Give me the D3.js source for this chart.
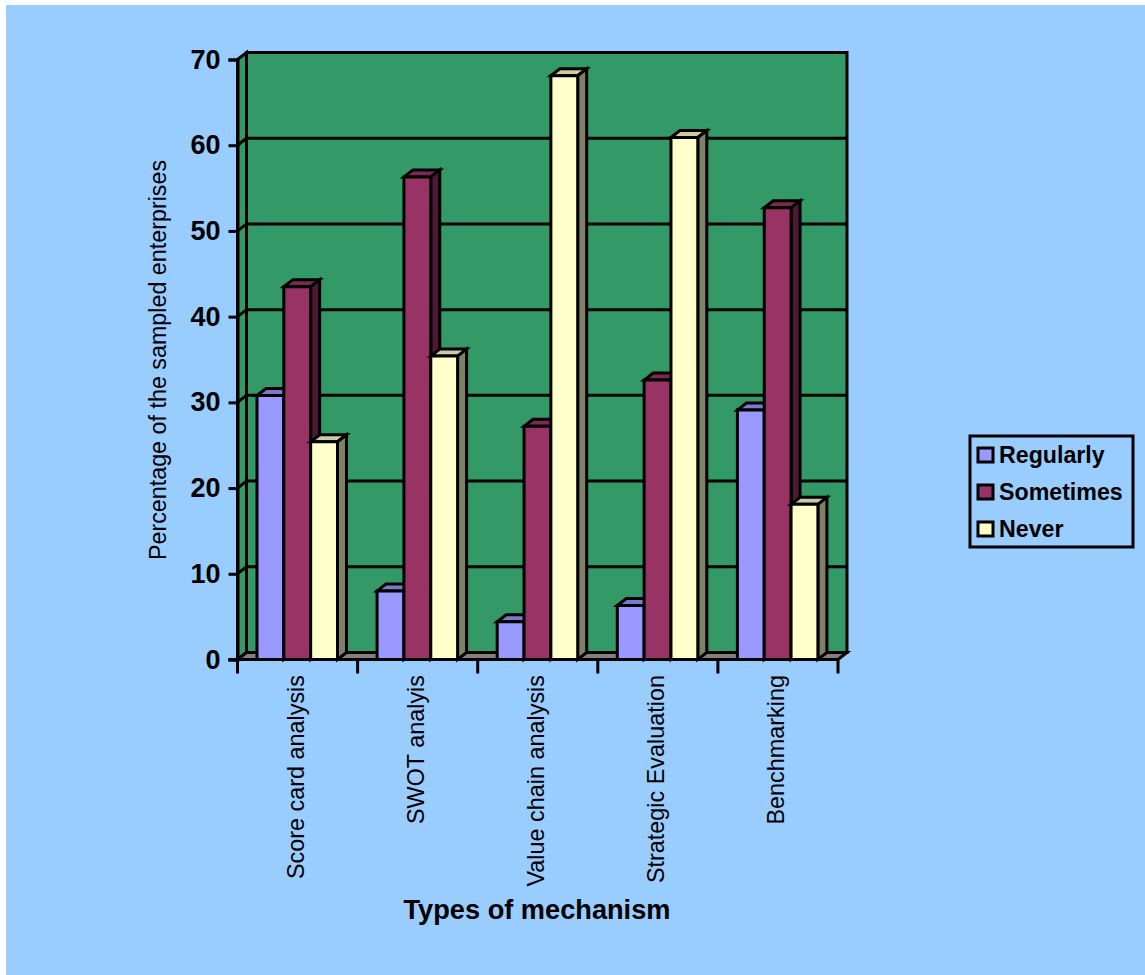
<!DOCTYPE html>
<html>
<head>
<meta charset="utf-8">
<script src="https://cdn.jsdelivr.net/npm/d3@7/dist/d3.min.js"></script>
<style>
  html, body { margin: 0; padding: 0; background: #fff; }
  svg { display: block; }
  text { font-family: "Liberation Sans", Arial, sans-serif; fill: #000; }
</style>
</head>
<body>
<svg id="chart" width="1145" height="975"></svg>
<script>
const categories = ["Score card analysis", "SWOT analyis", "Value chain analysis", "Strategic Evaluation", "Benchmarking"];
const seriesNames = ["Regularly", "Sometimes", "Never"];
const regularly = [30.8, 8.0, 4.4, 6.3, 29.1];
const sometimes = [43.5, 56.3, 27.2, 32.6, 52.7];
const never = [25.4, 35.4, 68.1, 60.9, 18.1];
const yTicks = [0, 10, 20, 30, 40, 50, 60, 70];
const frontColors = ["#9999ff", "#993366", "#ffffcc"];
const topColors = ["#7a7acc", "#7a2952", "#cccca3"];
const sideColors = ["#5c5c99", "#4d1a33", "#808066"];

const svg = d3.select("#chart");
const seriesValues = [regularly, sometimes, never];

svg.append("rect").attr("x", 6).attr("y", 5).attr("width", 1139).attr("height", 970).attr("fill", "#99ccff");

// Front plane of the plot and the offset of the back wall
const x0 = d3.scaleBand().domain(categories).range([237.5, 838]);
const y = d3.scaleLinear().domain([0, 70]).range([659.5, 59.5]);
const dx = 9, dy = 7;
const stroke = { stroke: "#000", "stroke-width": 3, "stroke-linejoin": "miter" };
const applyStroke = s => { for (const k in stroke) s.attr(k, stroke[k]); return s; };
const poly = (g, pts, fill) => applyStroke(g.append("polygon")
  .attr("points", pts.map(p => p.join(",")).join(" ")).attr("fill", fill));

const plot = svg.append("g");
const [xl, xr] = x0.range();
const yb = y(0), yt = y(70);

// Back wall, side wall and floor
poly(plot, [[xl + dx, yt - dy], [xr + dx, yt - dy], [xr + dx, yb - dy], [xl + dx, yb - dy]], "#339966");
poly(plot, [[xl, yt], [xl + dx, yt - dy], [xl + dx, yb - dy], [xl, yb]], "#339966");
poly(plot, [[xl, yb], [xl + dx, yb - dy], [xr + dx, yb - dy], [xr, yb]], "#808080");

// Gridlines wrap from the side wall onto the back wall
plot.selectAll("path.grid").data(yTicks.slice(1, -1)).join("path")
  .attr("class", "grid").attr("fill", "none")
  .attr("d", v => `M${xl},${y(v)}L${xl + dx},${y(v) - dy}L${xr + dx},${y(v) - dy}`)
  .call(applyStroke);

// Bars: inner band sets the cluster inside each category
const x1 = d3.scaleBand().domain(seriesNames).range([19.5, 100]);
categories.forEach((c, i) => {
  seriesNames.forEach((s, j) => {
    const g = plot.append("g");
    const left = x0(c) + x1(s), w = x1.bandwidth();
    const top = y(seriesValues[j][i]);
    poly(g, [[left, top], [left + dx, top - dy], [left + w + dx, top - dy], [left + w, top]], topColors[j]);
    poly(g, [[left + w, top], [left + w + dx, top - dy], [left + w + dx, yb - dy], [left + w, yb]], sideColors[j]);
    poly(g, [[left, top], [left + w, top], [left + w, yb], [left, yb]], frontColors[j]);
  });
});

// Value axis
const yAxis = svg.append("g").attr("transform", `translate(${xl},0)`)
  .call(d3.axisLeft(y).tickValues(yTicks).tickSize(9).tickPadding(8));
yAxis.selectAll("line").attr("stroke", "#000").attr("stroke-width", 3);
yAxis.select(".domain").attr("stroke", "#000").attr("stroke-width", 3);
yAxis.selectAll("text").attr("font-size", 27).attr("font-weight", "bold")
  .style("font-family", '"Liberation Sans", Arial, sans-serif');

// Category axis with boundary ticks and vertical labels
const xEdges = categories.map(c => x0(c)).concat([xr]);
const xAxisG = svg.append("g");
xAxisG.append("line").attr("x1", xl - 9).attr("x2", xr).attr("y1", yb).attr("y2", yb).call(applyStroke);
xAxisG.selectAll("line.tick").data(xEdges).join("line").attr("class", "tick")
  .attr("x1", d => d).attr("x2", d => d).attr("y1", yb).attr("y2", yb + 14).call(applyStroke);
xAxisG.selectAll("text").data(categories).join("text")
  .attr("font-size", 23.4)
  .attr("text-anchor", "end")
  .attr("transform", c => `translate(${x0(c) + x0.bandwidth() / 2 + 6.5},675) rotate(-90)`)
  .text(c => c);

// Axis titles
svg.append("text").attr("x", 537).attr("y", 919).attr("text-anchor", "middle")
  .attr("font-size", 27.2).attr("font-weight", "bold").text("Types of mechanism");
svg.append("text").attr("transform", "translate(166,360) rotate(-90)").attr("text-anchor", "middle")
  .attr("font-size", 23.3).text("Percentage of the sampled enterprises");

// Legend
const legend = svg.append("g");
legend.append("rect").attr("x", 970).attr("y", 436).attr("width", 163).attr("height", 111)
  .attr("fill", "none").call(applyStroke);
const legendY = d3.scalePoint().domain(seriesNames).range([455, 529]);
seriesNames.forEach((s, j) => {
  legend.append("rect").attr("x", 978).attr("y", legendY(s) - 7).attr("width", 15).attr("height", 14)
    .attr("fill", frontColors[j]).call(applyStroke);
  legend.append("text").attr("x", 999).attr("y", legendY(s) + 8)
    .attr("font-size", 23.2).attr("font-weight", "bold").text(s);
});
</script>
</body>
</html>
